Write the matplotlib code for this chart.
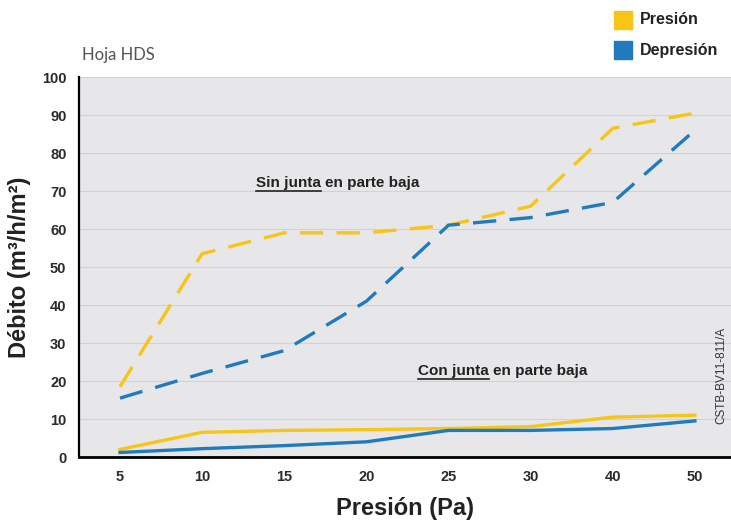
import matplotlib
matplotlib.use("Agg")
import matplotlib.pyplot as plt
from matplotlib.lines import Line2D
from matplotlib.patches import Rectangle

categories = ["5", "10", "15", "20", "25", "30", "40", "50"]
presion_sin = [18.5, 53.5, 59, 59, 61, 66, 86.5, 90.5]
depresion_sin = [15.5, 22, 28, 41, 61, 63, 67, 86]
presion_con = [2, 6.5, 7, 7.2, 7.5, 8, 10.5, 11]
depresion_con = [1.2, 2.2, 3, 4, 7, 7, 7.5, 9.5]
yticks = [0, 10, 20, 30, 40, 50, 60, 70, 80, 90, 100]

YELLOW = "#f6c518"
BLUE = "#1f7bbd"
FONT = ["Liberation Sans", "DejaVu Sans"]
plt.rcParams["font.family"] = FONT

fig = plt.figure(figsize=(7.31, 5.21), dpi=100)
ax = fig.add_axes([0.108, 0.1228, 0.892, 0.7294])
ax.set_facecolor("#e7e7ea")
x = list(range(len(categories)))

ax.plot(x, presion_sin, color=YELLOW, lw=2.4, dashes=(7, 4))
ax.plot(x, depresion_sin, color=BLUE, lw=2.4, dashes=(7, 4))
ax.plot(x, presion_con, color=YELLOW, lw=2.4)
ax.plot(x, depresion_con, color=BLUE, lw=2.4)

ax.set_xlim(-0.5, 7.44)
ax.set_ylim(0, 100)
ax.set_xticks(x)
ax.set_xticklabels(categories, fontsize=10.5, fontweight="bold", color="#2a2a2a")
ax.set_yticks(yticks)
ax.set_yticklabels([str(v) for v in yticks], fontsize=10.5, fontweight="bold", color="#2a2a2a")
ax.tick_params(length=0, pad=9)
ax.grid(axis="y", color="#d2d2d6", lw=0.8)
ax.set_axisbelow(True)
for s in ["top", "right"]:
    ax.spines[s].set_visible(False)
ax.spines["left"].set_linewidth(1.6)
ax.spines["bottom"].set_linewidth(2.0)

ax.set_xlabel("Presión (Pa)", fontsize=17, fontweight="bold", labelpad=10, color="#222222")
ax.set_ylabel("Débito (m³/h/m²)", fontsize=17, fontweight="bold", labelpad=8, color="#222222")

fig.text(82/731, 1 - 55/521, "Hoja HDS", fontsize=12, color="#555555",
         family=["Lato", "DejaVu Sans"], va="center")

# legend
for i, (lab, col) in enumerate([("Presión", YELLOW), ("Depresión", BLUE)]):
    yc = 1 - (20 + 30 * i) / 521
    fig.patches.append(Rectangle((614/731, yc - 9/521), 18/731, 18/521,
                                 transform=fig.transFigure, color=col))
    fig.text(640/731, yc, lab, fontsize=11.5, fontweight="bold", va="center", color="#222222")

def annot(xp, yp, under, rest):
    t1 = fig.text(xp/731, 1 - yp/521, under, fontsize=11, fontweight="bold",
                  va="center", color="#222222")
    fig.canvas.draw()
    bb = t1.get_window_extent()
    inv = fig.transFigure.inverted()
    (x0, y0), (x1, y1) = inv.transform([(bb.x0, bb.y0), (bb.x1, bb.y1)])
    fig.lines.append(Line2D([x0, x1], [y0 - 1/521, y0 - 1/521],
                            transform=fig.transFigure, color="#222222", lw=1.2))
    fig.text(x1 + 4/731, 1 - yp/521, rest, fontsize=11, fontweight="bold",
             va="center", color="#222222")

annot(256, 183, "Sin junta", "en parte baja")
annot(418, 371, "Con junta", "en parte baja")

fig.text(721/731, 1 - 375/521, "CSTB-BV11-811/A", rotation=90, fontsize=8.5,
         va="center", ha="center", color="#333333")

fig.savefig("out.png", dpi=100)
